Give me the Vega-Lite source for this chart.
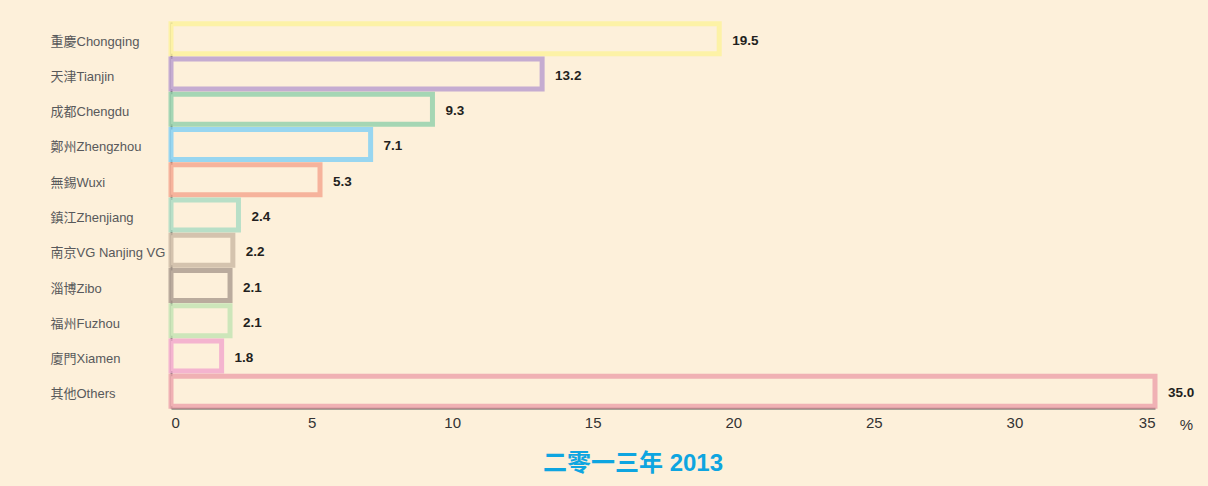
{
  "$schema": "https://vega.github.io/schema/vega-lite/v6.json",
  "autosize": {"type": "none"},
  "width": 984,
  "height": 386,
  "padding": {"left": 171, "top": 22, "right": 53, "bottom": 78},
  "background": "#fdf0da",
  "config": {
    "view": {"stroke": null},
    "font": "Liberation Sans, Noto Sans CJK TC"
  },
  "title": {
    "text": "二零一三年 2013",
    "orient": "bottom",
    "anchor": "middle",
    "dx": -30,
    "offset": 20,
    "color": "#0ea5e0",
    "fontSize": 24,
    "fontWeight": "bold",
    "font": "Liberation Sans, Noto Sans CJK TC"
  },
  "data": {
    "values": [
      {"city": "重慶Chongqing", "value": 19.5, "label": "19.5", "color": "#fdf29c"},
      {"city": "天津Tianjin", "value": 13.2, "label": "13.2", "color": "#bba0cf"},
      {"city": "成都Chengdu", "value": 9.3, "label": "9.3", "color": "#95d1ad"},
      {"city": "鄭州Zhengzhou", "value": 7.1, "label": "7.1", "color": "#86d1f3"},
      {"city": "無錫Wuxi", "value": 5.3, "label": "5.3", "color": "#f5a891"},
      {"city": "鎮江Zhenjiang", "value": 2.4, "label": "2.4", "color": "#abdcc3"},
      {"city": "南京VG Nanjing VG", "value": 2.2, "label": "2.2", "color": "#cdbba6"},
      {"city": "淄博Zibo", "value": 2.1, "label": "2.1", "color": "#ae9f92"},
      {"city": "福州Fuzhou", "value": 2.1, "label": "2.1", "color": "#c4e4b4"},
      {"city": "廈門Xiamen", "value": 1.8, "label": "1.8", "color": "#f2a9cc"},
      {"city": "其他Others", "value": 35.0, "label": "35.0", "color": "#eda6ad"}
    ]
  },
  "encoding": {
    "y": {
      "field": "city",
      "type": "nominal",
      "sort": null,
      "scale": {"paddingInner": 0.15, "paddingOuter": 0.05},
      "axis": {
        "title": null,
        "ticks": false,
        "labelAlign": "left",
        "labelPadding": 121,
        "labelFontSize": 13,
        "labelColor": "#58595b",
        "labelOffset": 3,
        "domainColor": "#555555",
        "domainWidth": 2
      }
    }
  },
  "layer": [
    {
      "mark": {"type": "bar", "fill": "#fdf0da", "strokeWidth": 5, "strokeOpacity": 0.85},
      "encoding": {
        "x": {
          "field": "value",
          "type": "quantitative",
          "scale": {"domain": [0, 35], "nice": false},
          "axis": {
            "values": [0, 5, 10, 15, 20, 25, 30, 35],
            "ticks": false,
            "grid": false,
            "labelFontSize": 15,
            "labelColor": "#333333",
            "labelPadding": 7,
            "domainColor": "#555555",
            "domainWidth": 2,
            "title": "%",
            "titleX": 1015,
            "titleY": 16,
            "titleFontSize": 15,
            "titleFontWeight": "normal",
            "titleColor": "#333333",
            "titleBaseline": "middle",
            "titleAlign": "center"
          }
        },
        "stroke": {"field": "color", "type": "nominal", "scale": null}
      }
    },
    {
      "mark": {"type": "text", "align": "left", "dx": 13, "dy": 2, "fontSize": 13.5, "fontWeight": "bold", "color": "#231f20"},
      "encoding": {
        "x": {"field": "value", "type": "quantitative"},
        "text": {"field": "label"}
      }
    }
  ]
}
